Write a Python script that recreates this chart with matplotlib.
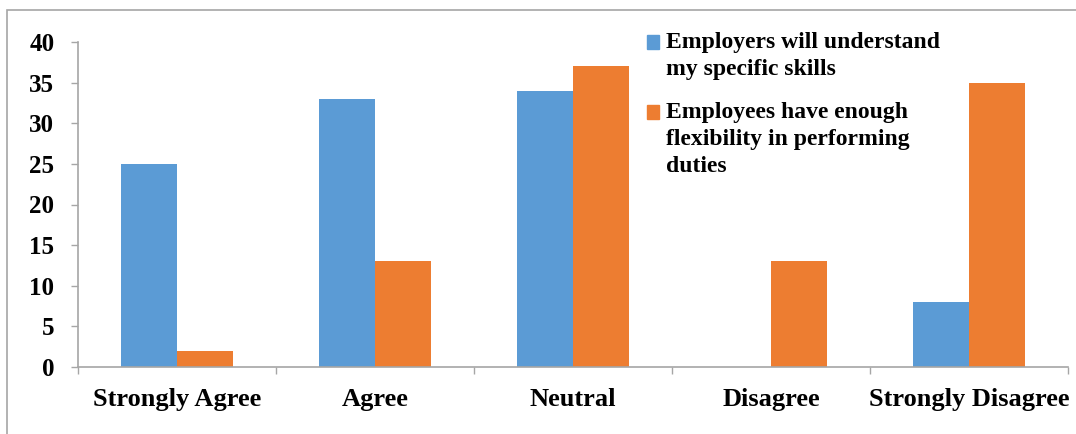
import matplotlib
matplotlib.use("Agg")
import matplotlib.pyplot as plt
import numpy as np
from matplotlib.patches import Rectangle, Patch
from matplotlib.legend_handler import HandlerPatch

plt.rcParams['font.family'] = ['Liberation Serif', 'DejaVu Serif']
plt.rcParams['font.weight'] = 'bold'

categories = ["Strongly Agree", "Agree", "Neutral", "Disagree", "Strongly Disagree"]
understand_skills = [25, 33, 34, 0, 8]
flexibility = [2, 13, 37, 13, 35]
series_labels = ["Employers will understand\nmy specific skills",
                 "Employees have enough\nflexibility in performing\nduties"]
y_ticks = [0, 5, 10, 15, 20, 25, 30, 35, 40]

BLUE = "#5B9BD5"
ORANGE = "#ED7D31"
GRAY = "#A6A6A6"
LEGEND_FS = 17
LINE_PITCH_PT = 19.6  # distance between label lines, in points

W, H = 1076, 434
fig = plt.figure(figsize=(W / 100, H / 100), dpi=100)
ax = fig.add_axes([78 / W, 1 - 367 / H, (1068 - 78) / W, (367 - 42) / H])

x = np.arange(len(categories))
bw = 0.285
ax.bar(x - bw / 2, understand_skills, bw, color=BLUE, edgecolor="none")
ax.bar(x + bw / 2, flexibility, bw, color=ORANGE, edgecolor="none")

ax.set_xlim(-0.5, len(categories) - 0.5)
ax.set_ylim(0, 40)
ax.set_yticks(y_ticks)
ax.set_yticklabels([str(v) for v in y_ticks], fontsize=18, fontweight="bold")

# category boundaries carry the tick marks, centres carry the labels
ax.set_xticks(np.arange(len(categories) + 1) - 0.5)
ax.set_xticklabels([])
ax.set_xticks(x, minor=True)
ax.set_xticklabels(categories, minor=True, fontsize=19, fontweight="bold")
ax.tick_params(axis="x", which="major", length=5, width=1, color=GRAY, direction="out")
ax.tick_params(axis="x", which="minor", length=0, pad=15)
ax.tick_params(axis="y", length=5, width=1, color=GRAY, direction="out", pad=12)

for side in ("top", "right"):
    ax.spines[side].set_visible(False)
for side in ("left", "bottom"):
    ax.spines[side].set_color(GRAY)
    ax.spines[side].set_linewidth(1.2)


def square_on_first_line(n_lines):
    """Legend key placed beside the first line of a multi-line label."""
    def make(legend, orig_handle, xdescent, ydescent, width, height, fontsize):
        shift = 0.5 * (n_lines - 1) * LINE_PITCH_PT
        return Rectangle((-xdescent, -ydescent + shift), width, height)
    return make


h1 = Patch(color=BLUE)
h2 = Patch(color=ORANGE)
leg = ax.legend([h1, h2], series_labels, loc="upper left",
                bbox_to_anchor=(647 / W, 1 - 32 / H), bbox_transform=fig.transFigure,
                frameon=False, borderpad=0, borderaxespad=0,
                handlelength=0.51, handleheight=0.51, handletextpad=0.3,
                labelspacing=0.9,
                prop={"size": LEGEND_FS, "weight": "bold"},
                handler_map={h1: HandlerPatch(patch_func=square_on_first_line(2)),
                             h2: HandlerPatch(patch_func=square_on_first_line(3))})
for t in leg.get_texts():
    t.set_linespacing(1.4)

# thin frame around the whole chart area
fig.add_artist(Rectangle((7 / W, -0.05), 1.1, 1 - 10.5 / H + 0.05,
                         transform=fig.transFigure, fill=False,
                         edgecolor=GRAY, linewidth=1.2))

fig.savefig("out.png", dpi=100)
